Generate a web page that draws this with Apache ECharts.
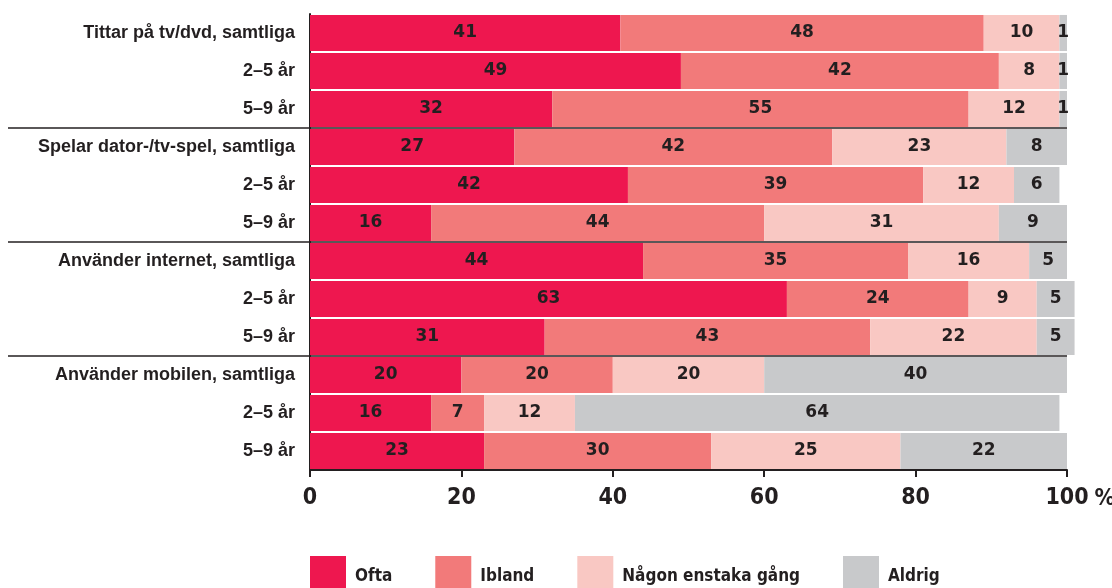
<!DOCTYPE html>
<html>
<head>
<meta charset="utf-8">
<script src="https://cdn.jsdelivr.net/npm/echarts@6/dist/echarts.min.js"></script>
<style>
  html, body { margin: 0; background: #fff; }
  #chart { width: 1112px; height: 588px; }
</style>
</head>
<body>
<div id="chart"></div>
<script>
// rader uppifrån och ned
const categories = [
  "Tittar på tv/dvd, samtliga", "2–5 år", "5–9 år",
  "Spelar dator-/tv-spel, samtliga", "2–5 år", "5–9 år",
  "Använder internet, samtliga", "2–5 år", "5–9 år",
  "Använder mobilen, samtliga", "2–5 år", "5–9 år"
];
const ofta = [41, 49, 32, 27, 42, 16, 44, 63, 31, 20, 16, 23];
const ibland = [48, 42, 55, 42, 39, 44, 35, 24, 43, 20, 7, 30];
const nagonGang = [10, 8, 12, 23, 12, 31, 16, 9, 22, 20, 12, 25];
const aldrig = [1, 1, 1, 8, 6, 9, 5, 5, 5, 40, 64, 22];
const seriesNames = ["Ofta", "Ibland", "Någon enstaka gång", "Aldrig"];
const colors = ["#ee174f", "#f27a7a", "#f9c8c3", "#c8c9cb"];

const dark = "#231f20";
const narrow = "'Liberation Sans Narrow', 'DejaVu Sans Condensed', sans-serif";

// skiljelinje mellan grupperna (var tredje rad)
const groupLine = function (index) {
  return index % 3 === 0;
};

const chart = echarts.init(document.getElementById("chart"));

function makeSeries(name, data, i) {
  return {
    name: name,
    type: "bar",
    stack: "total",
    data: data,
    clip: false,
    barCategoryGap: "5%",
    itemStyle: { color: colors[i] },
    label: {
      show: true,
      position: "inside",
      color: dark,
      fontFamily: "'DejaVu Sans', sans-serif",
      fontWeight: "bold",
      fontSize: 17
    }
  };
}

chart.setOption({
  animation: false,
  color: colors,
  grid: [
    { left: 310, top: 14, width: 757, height: 456, outerBoundsMode: "none" },
    // bara för linjerna till vänster om staplarna
    { left: 8, top: 14, width: 302, height: 456, outerBoundsMode: "none" }
  ],
  legend: {
    left: 310,
    top: 556,
    padding: 0,
    icon: "rect",
    itemWidth: 36,
    itemHeight: 32,
    itemGap: 43,
    data: seriesNames,
    formatter: "{t|{name}}",
    textStyle: {
      color: dark,
      fontFamily: narrow,
      fontWeight: "bold",
      fontSize: 17,
      rich: {
        t: {
          color: dark,
          fontFamily: narrow,
          fontWeight: "bold",
          fontSize: 17,
          padding: [10, 0, 0, 4]
        }
      }
    }
  },
  xAxis: [
    {
      type: "value",
      min: 0,
      max: 100,
      interval: 20,
      name: "%",
      nameLocation: "end",
      nameGap: 21,
      nameTextStyle: {
        color: dark,
        fontFamily: narrow,
        fontWeight: "bold",
        fontSize: 23,
        verticalAlign: "top",
        padding: [18, 0, 0, 0]
      },
      axisLine: { show: true, lineStyle: { color: dark, width: 2 } },
      axisTick: { show: true, length: 7, lineStyle: { color: dark, width: 2 } },
      axisLabel: {
        color: dark,
        fontFamily: narrow,
        fontWeight: "bold",
        fontSize: 23,
        margin: 17
      },
      splitLine: { show: false }
    },
    {
      type: "value",
      gridIndex: 1,
      min: 0,
      max: 1,
      show: false
    }
  ],
  yAxis: [
    {
      type: "category",
      data: categories,
      inverse: true,
      axisLine: { show: true, lineStyle: { color: dark, width: 2 } },
      axisTick: { show: false },
      axisLabel: {
        interval: 0,
        margin: 15,
        color: dark,
        fontFamily: "'Liberation Sans', Arial, sans-serif",
        fontWeight: "bold",
        fontSize: 18
      },
      splitLine: {
        show: true,
        interval: groupLine,
        showMinLine: false,
        showMaxLine: false,
        lineStyle: { color: dark, width: 1.5 }
      }
    },
    {
      type: "category",
      gridIndex: 1,
      data: categories,
      inverse: true,
      axisLine: { show: false },
      axisTick: { show: false },
      axisLabel: { show: false },
      splitLine: {
        show: true,
        interval: groupLine,
        showMinLine: false,
        showMaxLine: false,
        lineStyle: { color: dark, width: 1.5 }
      }
    }
  ],
  series: [
    makeSeries(seriesNames[0], ofta, 0),
    makeSeries(seriesNames[1], ibland, 1),
    makeSeries(seriesNames[2], nagonGang, 2),
    makeSeries(seriesNames[3], aldrig, 3)
  ]
});
</script>
</body>
</html>
